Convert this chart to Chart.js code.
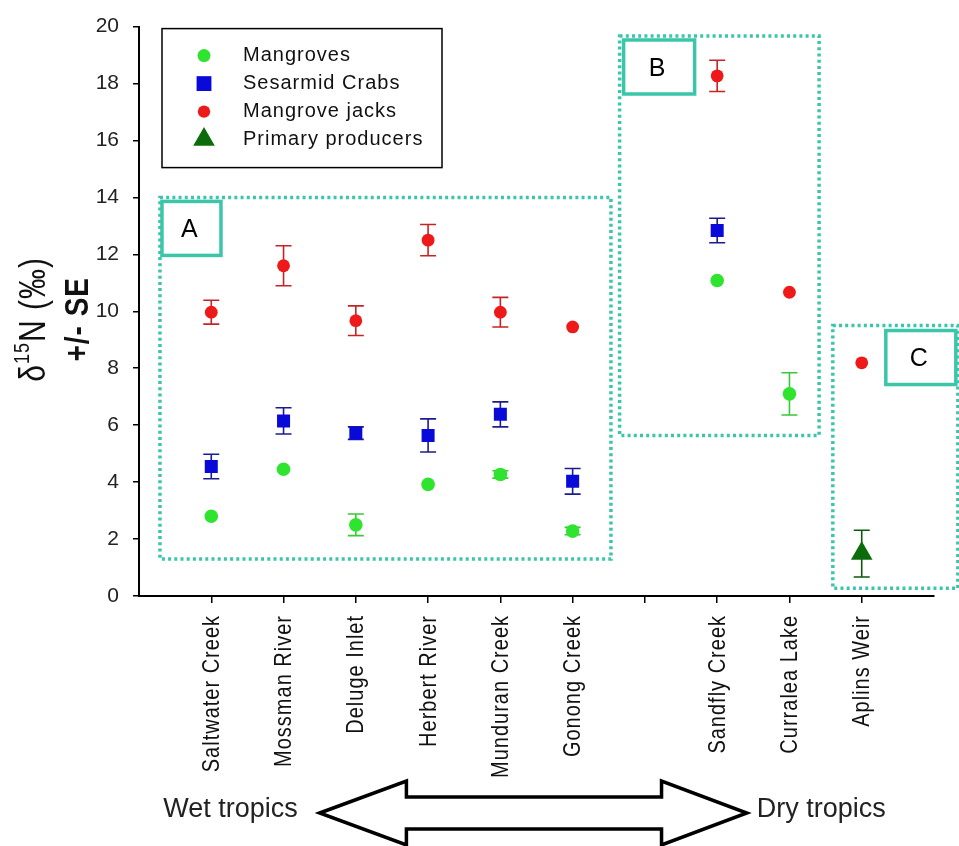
<!DOCTYPE html>
<html>
<head>
<meta charset="utf-8">
<script src="https://cdn.jsdelivr.net/npm/chart.js@4/dist/chart.umd.min.js"></script>
<style>
  body { margin: 0; background: #fff; }
  #wrap { width: 959px; height: 846px; }
</style>
</head>
<body>
<div id="wrap"><canvas id="chart"></canvas></div>
<script>
// sites along the x axis (index 6 is an empty gap between wet and dry tropics)
const sites = ['Saltwater Creek', 'Mossman River', 'Deluge Inlet', 'Herbert River', 'Munduran Creek',
               'Gonong Creek', '', 'Sandfly Creek', 'Curralea Lake', 'Aplins Weir'];

// delta 15N means and standard errors (null SE = bar hidden behind the marker)
const mangroves   = [2.80, 4.45, 2.50, 3.92, 4.27, 2.28, null, 11.08, 7.10, null];
const mangrovesSE = [null, null, 0.38, null, 0.13, 0.13, null, null, 0.74, null];
const crabs       = [4.55, 6.15, 5.72, 5.64, 6.38, 4.03, null, 12.84, null, null];
const crabsSE     = [0.43, 0.46, 0.22, 0.58, 0.44, 0.45, null, 0.43, null, null];
const jacks       = [9.97, 11.60, 9.67, 12.50, 9.97, 9.45, null, 18.27, 10.67, 8.19];
const jacksSE     = [0.42, 0.70, 0.52, 0.55, 0.52, null, null, 0.55, null, null];
const producers   = [null, null, null, null, null, null, null, null, null, 1.49];
const producersSE = [null, null, null, null, null, null, null, null, null, 0.82];

const yTicks = [0, 2, 4, 6, 8, 10, 12, 14, 16, 18, 20];

// grouping boxes, in data units
const regions = [
    { label: 'A', x0: -0.71, x1: 5.53, y0: 1.3, y1: 14.0, tag: { dx: 2, dy: 4, w: 59, h: 54 } },
    { label: 'B', x0: 5.65, x1: 8.41, y0: 5.64, y1: 19.67, tag: { dx: 4, dy: 4, w: 71, h: 54 } },
    { label: 'C', x0: 8.6, x1: 10.33, y0: 0.27, y1: 9.5, tag: { dx: 53, dy: 5, w: 70, h: 54 } }
];

function toPoints(values, se) {
    return values.map((v, i) => v == null ? null : { x: i, y: v, se: se[i] }).filter(Boolean);
}

const TEAL = '#3cc6a9';

const errorBars = {
    id: 'errorBars',
    beforeDatasetsDraw(chart) {
        const { ctx, scales: { y } } = chart;
        chart.data.datasets.forEach((ds, di) => {
            const meta = chart.getDatasetMeta(di);
            ctx.save();
            ctx.strokeStyle = ds.errorColor;
            ctx.lineWidth = 1.6;
            meta.data.forEach((pt, j) => {
                const raw = ds.data[j];
                if (!raw.se) return;
                const top = y.getPixelForValue(raw.y + raw.se);
                const bot = y.getPixelForValue(raw.y - raw.se);
                ctx.beginPath();
                ctx.moveTo(pt.x, top); ctx.lineTo(pt.x, bot);
                ctx.moveTo(pt.x - 8, top); ctx.lineTo(pt.x + 8, top);
                ctx.moveTo(pt.x - 8, bot); ctx.lineTo(pt.x + 8, bot);
                ctx.stroke();
            });
            ctx.restore();
        });
    }
};

const decorations = {
    id: 'decorations',
    afterDraw(chart) {
        const { ctx, chartArea, scales: { x, y } } = chart;
        ctx.save();

        // x tick labels, rotated
        ctx.fillStyle = '#111';
        ctx.font = '20px Arial';
        ctx.letterSpacing = '1px';
        ctx.textAlign = 'right';
        ctx.textBaseline = 'middle';
        sites.forEach((s, i) => {
            if (!s) return;
            ctx.save();
            ctx.translate(x.getPixelForValue(i) + 1, chartArea.bottom + 19);
            ctx.rotate(-Math.PI / 2);
            ctx.scale(1, 1.2);
            ctx.fillText(s, 0, 0);
            ctx.restore();
        });

        // y axis title
        ctx.textAlign = 'left';
        ctx.textBaseline = 'alphabetic';
        const midY = (chartArea.top + chartArea.bottom) / 2 + 8;
        ctx.save();
        ctx.translate(45, midY);
        ctx.rotate(-Math.PI / 2);
        ctx.scale(1, 1.2);
        ctx.letterSpacing = '1px';
        const parts = [['δ', '30px Arial', 0], ['15', '18px Arial', -13], ['N (‰)', '30px Arial', 0]];
        let total = 0;
        parts.forEach(p => { ctx.font = p[1]; total += ctx.measureText(p[0]).width; });
        let px = -total / 2;
        parts.forEach(p => { ctx.font = p[1]; ctx.fillText(p[0], px, p[2]); px += ctx.measureText(p[0]).width; });
        ctx.restore();

        ctx.save();
        ctx.translate(88, midY);
        ctx.rotate(-Math.PI / 2);
        ctx.scale(1, 1.2);
        ctx.font = 'bold 28px Arial';
        ctx.letterSpacing = '1px';
        ctx.textAlign = 'center';
        ctx.fillText('+/- SE', 0, 0);
        ctx.restore();

        // dotted grouping boxes with their letter tags
        regions.forEach(r => {
            const left = x.getPixelForValue(r.x0), right = x.getPixelForValue(r.x1);
            const top = y.getPixelForValue(r.y1), bottom = y.getPixelForValue(r.y0);
            ctx.save();
            ctx.strokeStyle = TEAL;
            ctx.lineWidth = 3.5;
            ctx.setLineDash([3, 3.2]);
            ctx.strokeRect(left, top, right - left, bottom - top);
            ctx.restore();
            const tx = left + r.tag.dx, ty = top + r.tag.dy;
            ctx.fillStyle = '#fff';
            ctx.fillRect(tx, ty, r.tag.w, r.tag.h);
            ctx.strokeStyle = TEAL;
            ctx.lineWidth = 3.5;
            ctx.strokeRect(tx, ty, r.tag.w, r.tag.h);
            ctx.fillStyle = '#000';
            ctx.font = '25px Arial';
            ctx.letterSpacing = '0px';
            ctx.textAlign = 'center';
            ctx.textBaseline = 'middle';
            ctx.fillText(r.label, tx + r.tag.w / 2 - 2, ty + r.tag.h / 2 + 2);
        });

        // legend box
        const lx = chartArea.left + 23, ly = chartArea.top + 2;
        ctx.fillStyle = '#fff';
        ctx.fillRect(lx, ly, 280, 139);
        ctx.strokeStyle = '#000';
        ctx.lineWidth = 1.5;
        ctx.strokeRect(lx, ly, 280, 139);
        chart.data.datasets.forEach((ds, i) => {
            const cy = ly + 27 + i * 28;
            ctx.fillStyle = ds.backgroundColor;
            Chart.helpers.drawPoint(ctx, {
                pointStyle: ds.pointStyle, radius: ds.legendRadius, rotation: 0, borderWidth: 0
            }, lx + 42, cy);
            ctx.fillStyle = '#111';
            ctx.font = '20px Arial';
            ctx.letterSpacing = '1px';
            ctx.textAlign = 'left';
            ctx.textBaseline = 'middle';
            ctx.fillText(ds.label, lx + 81, cy);
        });

        // wet / dry tropics double arrow
        const tipL = x.getPixelForValue(1.5), tipR = x.getPixelForValue(7.41);
        const backL = x.getPixelForValue(2.7), backR = x.getPixelForValue(6.23);
        const ay = chartArea.bottom + 217;
        ctx.beginPath();
        ctx.moveTo(tipL, ay);
        ctx.lineTo(backL, ay - 32);
        ctx.lineTo(backL, ay - 16);
        ctx.lineTo(backR, ay - 16);
        ctx.lineTo(backR, ay - 32);
        ctx.lineTo(tipR, ay);
        ctx.lineTo(backR, ay + 32);
        ctx.lineTo(backR, ay + 16);
        ctx.lineTo(backL, ay + 16);
        ctx.lineTo(backL, ay + 32);
        ctx.closePath();
        ctx.fillStyle = '#fff';
        ctx.fill();
        ctx.strokeStyle = '#000';
        ctx.lineWidth = 3.5;
        ctx.lineJoin = 'miter';
        ctx.stroke();

        ctx.fillStyle = '#222';
        ctx.font = '27px Arial';
        ctx.letterSpacing = '0px';
        ctx.textBaseline = 'alphabetic';
        ctx.textAlign = 'right';
        ctx.fillText('Wet tropics', tipL - 22, ay + 4);
        ctx.textAlign = 'left';
        ctx.fillText('Dry tropics', tipR + 10, ay + 4);

        ctx.restore();
    }
};

new Chart(document.getElementById('chart'), {
    type: 'scatter',
    data: {
        datasets: [
            { label: 'Mangroves', data: toPoints(mangroves, mangrovesSE), pointStyle: 'circle',
              pointRadius: 6.8, legendRadius: 6.5, backgroundColor: '#2fe42f', errorColor: '#38c838' },
            { label: 'Sesarmid Crabs', data: toPoints(crabs, crabsSE), pointStyle: 'rect',
              pointRadius: 9.2, legendRadius: 10.5, backgroundColor: '#0a0ad8', errorColor: '#1c1c8c' },
            { label: 'Mangrove jacks', data: toPoints(jacks, jacksSE), pointStyle: 'circle',
              pointRadius: 6.4, legendRadius: 6.2, backgroundColor: '#ee1a1a', errorColor: '#c42424' },
            { label: 'Primary producers', data: toPoints(producers, producersSE), pointStyle: 'triangle',
              pointRadius: 12.5, legendRadius: 12.5, backgroundColor: '#0c6c0c', errorColor: '#0c5a0c' }
        ].map(ds => Object.assign(ds, { borderWidth: 0, pointBorderWidth: 0, pointHoverRadius: ds.pointRadius }))
    },
    options: {
        responsive: true,
        maintainAspectRatio: false,
        animation: false,
        layout: { padding: { top: 24, right: 25, left: 0, bottom: 0 } },
        plugins: {
            legend: { display: false },
            tooltip: { enabled: false }
        },
        scales: {
            x: {
                type: 'linear',
                min: -1,
                max: 10,
                afterBuildTicks: scale => { scale.ticks = sites.map((s, i) => ({ value: i })); },
                afterFit: scale => { scale.height = 250; },
                ticks: { display: false },
                grid: { drawOnChartArea: false, drawTicks: true, tickLength: 7, color: '#000', lineWidth: 1.5 },
                border: { color: '#000', width: 2 }
            },
            y: {
                min: 0,
                max: 20,
                afterBuildTicks: scale => { scale.ticks = yTicks.map(v => ({ value: v })); },
                afterFit: scale => { scale.width = 139; },
                ticks: { font: { family: 'Arial', size: 21 }, color: '#222', padding: 14 },
                grid: { drawOnChartArea: false, drawTicks: true, tickLength: 6, color: '#000', lineWidth: 1.5 },
                border: { color: '#000', width: 2 }
            }
        }
    },
    plugins: [errorBars, decorations]
});
</script>
</body>
</html>
